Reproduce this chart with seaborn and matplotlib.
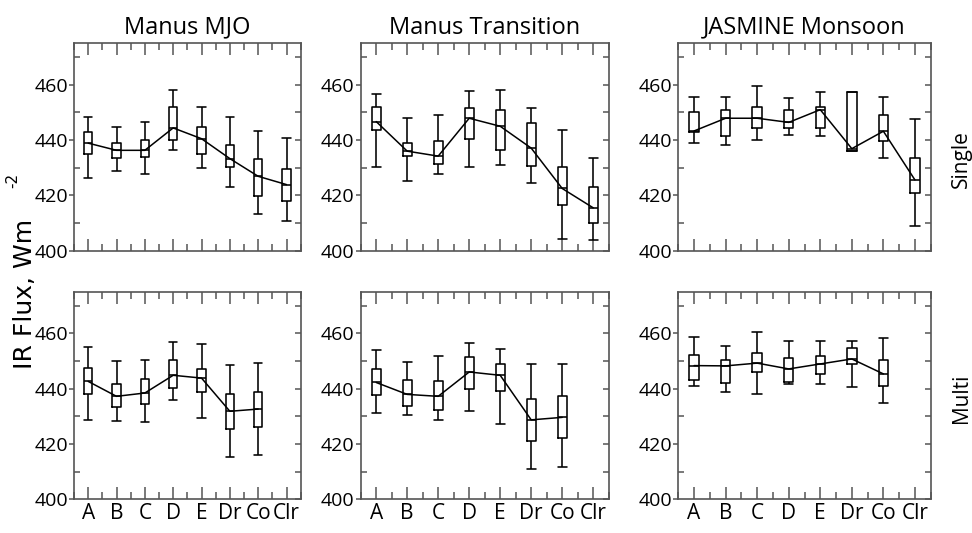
import numpy as np
import pandas as pd
import matplotlib
matplotlib.use("Agg")
import matplotlib.pyplot as plt
import seaborn as sns

# categories along each x axis
cats = ["A", "B", "C", "D", "E", "Dr", "Co", "Clr"]

# five-number summaries per panel: rows = whisker low, q1, median, q3, whisker high
mjo_single = [
    [426.4, 428.7, 427.6, 436.5, 429.9, 423.2, 413.2, 410.7],
    [434.8, 433.6, 433.9, 440.1, 435.0, 430.3, 419.9, 418.0],
    [438.9, 436.3, 436.3, 444.4, 440.5, 433.3, 426.9, 423.9],
    [442.9, 439.0, 440.0, 452.1, 444.8, 438.2, 433.3, 429.7],
    [448.3, 444.9, 446.7, 458.1, 452.0, 448.2, 443.4, 440.6],
]
transition_single = [
    [430.2, 425.2, 427.7, 430.2, 431.0, 424.4, 404.1, 403.9],
    [443.5, 434.1, 431.4, 440.5, 436.5, 430.5, 416.5, 409.9],
    [446.7, 436.0, 434.2, 447.9, 445.0, 437.1, 422.5, 415.5],
    [451.9, 439.0, 439.5, 451.5, 450.7, 446.0, 430.3, 423.1],
    [456.7, 447.9, 448.9, 457.7, 458.0, 451.7, 443.7, 433.6],
]
jasmine_single = [
    [438.9, 438.3, 440.2, 441.7, 441.3, 435.9, 433.5, 409.0],
    [442.8, 441.4, 444.3, 444.4, 444.4, 435.9, 439.5, 420.9],
    [443.3, 447.9, 447.9, 446.4, 451.0, 436.9, 443.2, 425.6],
    [450.1, 450.9, 451.9, 450.9, 451.9, 457.5, 448.9, 433.7],
    [455.7, 455.7, 459.5, 455.3, 457.3, 457.5, 455.5, 447.7],
]
# multi-layer panels have no Clr box
mjo_multi = [
    [428.7, 428.3, 427.9, 435.7, 429.3, 415.4, 416.0],
    [438.2, 433.4, 434.5, 440.2, 438.6, 425.3, 426.3],
    [442.6, 437.2, 438.4, 444.8, 443.8, 431.8, 432.6],
    [447.6, 441.6, 443.3, 450.5, 447.2, 438.2, 438.8],
    [455.2, 449.8, 450.2, 456.9, 456.1, 448.6, 449.2],
]
transition_multi = [
    [431.1, 430.5, 428.6, 431.8, 427.1, 411.1, 411.6],
    [437.8, 433.8, 432.2, 439.8, 439.0, 421.0, 422.1],
    [442.2, 437.9, 437.2, 446.0, 444.8, 428.7, 429.6],
    [446.9, 443.1, 442.8, 451.3, 448.7, 436.4, 437.2],
    [453.9, 449.5, 451.7, 456.3, 454.3, 448.7, 449.0],
]
jasmine_multi = [
    [441.1, 438.9, 438.0, 441.8, 441.7, 440.5, 434.7],
    [443.1, 441.9, 445.9, 442.3, 445.2, 448.8, 441.0],
    [448.3, 448.2, 449.2, 447.1, 448.9, 450.7, 445.3],
    [452.2, 450.2, 453.0, 451.2, 451.6, 454.6, 450.4],
    [458.8, 455.5, 460.5, 457.2, 457.2, 457.2, 458.3],
]

col_titles = ["Manus MJO", "Manus Transition", "JASMINE Monsoon"]
row_titles = ["Single", "Multi"]
panels = [[mjo_single, transition_single, jasmine_single],
          [mjo_multi, transition_multi, jasmine_multi]]

sns.set_style("ticks")
plt.rcParams["font.family"] = ["Open Sans", "DejaVu Sans"]
plt.rcParams["text.color"] = "black"
plt.rcParams["xtick.labelcolor"] = "black"
plt.rcParams["ytick.labelcolor"] = "black"
frame_col = "#555555"

fig = plt.figure(figsize=(9.72, 5.33), dpi=100)
W, H = 972, 533
# panel edges in pixels (the three columns are not equally wide)
col_px = [(74, 300.7), (360.7, 608.7), (678.3, 930.7)]
row_px = [(43.3, 250.7), (291.7, 499.3)]

for r in range(2):
    for c in range(3):
        x0, x1 = col_px[c]
        y0, y1 = row_px[r]
        ax = fig.add_axes([x0 / W, 1 - y1 / H, (x1 - x0) / W, (y1 - y0) / H])
        stats = panels[r][c]
        n = len(stats[0])
        rows = []
        for i in range(n):
            for k in range(5):
                rows.append({"cat": cats[i], "flux": stats[k][i]})
        df = pd.DataFrame(rows)
        # whis=(0, 100) -> whiskers at min/max, box at the quartiles of the 5 values
        sns.boxplot(data=df, x="cat", y="flux", order=cats, whis=(0, 100),
                    width=0.3, fill=False, color="black", linewidth=1.15,
                    capwidths=0.3, ax=ax)
        sns.pointplot(x=cats[:n], y=stats[2], order=cats, color="black",
                      markers="", linewidth=1.1, errorbar=None, ax=ax)

        ax.set_xlim(-0.5, 7.5)
        ax.set_ylim(400, 475)
        ax.set_xlabel("")
        ax.set_ylabel("")
        ax.set_xticks(range(8))
        ax.set_xticks(np.arange(-0.5, 8, 1.0), minor=True)
        ax.set_yticks([400, 420, 440, 460])
        ax.set_yticks([410, 430, 450, 470], minor=True)
        ax.set_yticklabels(["400", "420", "440", "460"], fontsize=14)
        if r == 1:
            ax.set_xticklabels(cats, fontsize=15)
        else:
            ax.set_xticklabels([])
        for sp in ax.spines.values():
            sp.set_visible(True)
            sp.set_color(frame_col)
            sp.set_linewidth(1.2)
        ax.tick_params(axis="x", which="major", direction="in", top=True, bottom=True,
                       length=8.5, width=1.1, color=frame_col, pad=3)
        ax.tick_params(axis="x", which="minor", direction="in", top=True, bottom=True,
                       length=5, width=1.1, color=frame_col)
        ax.tick_params(axis="y", which="major", direction="out", left=True, right=False,
                       length=3.5, width=1.1, color=frame_col, pad=1)
        ax.tick_params(axis="y", which="minor", direction="in", left=True, right=False,
                       length=4, width=1.1, color=frame_col)
        sec = ax.secondary_yaxis("right")
        sec.set_yticks(np.arange(400, 471, 10))
        sec.tick_params(direction="in", length=4, width=1.1, color=frame_col, labelright=False)
        sec.spines["right"].set_visible(False)

        if r == 0:
            ax.set_title(col_titles[c], fontsize=17, pad=7)

fig.text(25 / W, 1 - 294 / H, "IR Flux, Wm", rotation=90, ha="center", va="center",
         fontsize=18, family=["DejaVu Sans"])
fig.text(13 / W, 1 - 180 / H, "-2", rotation=90, ha="center", va="center",
         fontsize=11, family=["DejaVu Sans"])
fig.text(961 / W, 1 - 159 / H, row_titles[0], rotation=90, ha="center", va="center", fontsize=15)
fig.text(961 / W, 1 - 398 / H, row_titles[1], rotation=90, ha="center", va="center", fontsize=15)

fig.savefig("out.png", dpi=100)
